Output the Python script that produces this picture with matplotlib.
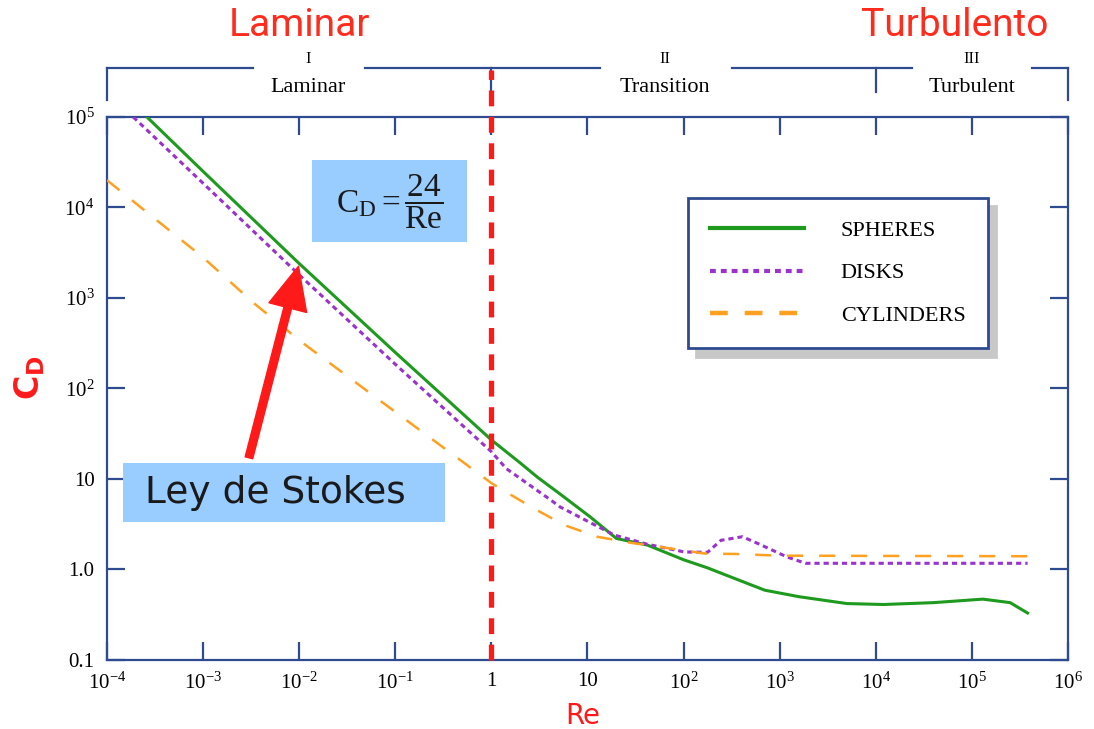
import matplotlib
matplotlib.use("Agg")
import matplotlib.pyplot as plt
from matplotlib.lines import Line2D
from matplotlib.patches import Rectangle, FancyArrowPatch

plt.rcParams['font.family'] = 'Liberation Serif'
plt.rcParams['mathtext.fontset'] = 'custom'
plt.rcParams['mathtext.rm'] = 'Liberation Serif'
plt.rcParams['mathtext.it'] = 'Liberation Serif:italic'
plt.rcParams['mathtext.sf'] = 'DejaVu Sans:bold'

# --- datos ---
re_esferas = [2.6e-4, 1e-3, 1e-2, 1e-1, 1, 2, 3, 5.2, 10.7, 20, 42, 100, 178, 325,
              700, 1590, 5000, 1.2e4, 4e4, 1.3e5, 2.5e5, 3.8e5]
cd_esferas = [1e5, 25000, 2400, 250, 27, 15, 10.5, 6.8, 3.8, 2.2, 1.86, 1.28, 1.04, 0.81,
              0.59, 0.50, 0.42, 0.41, 0.43, 0.47, 0.43, 0.33]

re_discos = [1.87e-4, 1e-3, 1e-2, 1e-1, 1, 1.43, 4.1, 5.2, 19, 42, 102, 178, 245, 410,
             630, 1200, 1860, 3.8e5]
cd_discos = [1e5, 18500, 1800, 185, 20, 13, 5.9, 4.9, 2.4, 1.9, 1.56, 1.55, 2.1, 2.3,
             1.88, 1.37, 1.17, 1.17]

re_cilindros = [1e-4, 1e-3, 3.4e-3, 1.06e-2, 1e-1, 1, 1.3, 2.6, 5.7, 12.6, 29, 42, 166,
                370, 980, 3.8e5]
cd_cilindros = [20000, 2800, 870, 325, 55, 9, 7.6, 4.9, 3.1, 2.3, 1.96, 1.86, 1.5,
                1.48, 1.42, 1.4]

x_ticks = [1e-4, 1e-3, 1e-2, 1e-1, 1, 10, 1e2, 1e3, 1e4, 1e5, 1e6]
x_labels = ['$10^{-4}$', '$10^{-3}$', '$10^{-2}$', '$10^{-1}$', '1', '10',
            '$10^{2}$', '$10^{3}$', '$10^{4}$', '$10^{5}$', '$10^{6}$']
y_ticks = [0.1, 1, 10, 1e2, 1e3, 1e4, 1e5]
y_labels = ['0.1', '1.0', '10', '$10^{2}$', '$10^{3}$', '$10^{4}$', '$10^{5}$']

azul = '#2f4b8f'
rojo = '#ff1a1a'
verde = '#1e9a1e'
morado = '#9933cc'
naranja = '#ffa020'

fig = plt.figure(figsize=(10.94, 7.29), dpi=100)
ax = fig.add_axes([0.0978, 0.0947, 0.8784, 0.7449])

ax.plot(re_esferas, cd_esferas, color=verde, lw=2.2, zorder=4)
ax.plot(re_discos, cd_discos, color=morado, lw=2.2, ls=(0, (1.7, 1.3)), zorder=4)
ax.plot(re_cilindros, cd_cilindros, color=naranja, lw=1.8, ls=(0, (6.4, 6.4)), zorder=4)

ax.set_xscale('log')
ax.set_yscale('log')
ax.set_xlim(1e-4, 1e6)
ax.set_ylim(0.1, 1e5)
ax.set_xticks(x_ticks)
ax.set_xticklabels(x_labels)
ax.set_yticks(y_ticks)
ax.set_yticklabels(y_labels)
ax.minorticks_off()
ax.tick_params(direction='in', length=13, width=1.6, color=azul, labelsize=15,
               top=True, right=True, pad=9)
for lado in ax.spines.values():
    lado.set_color(azul)
    lado.set_linewidth(1.6)

# linea roja en Re = 1
ax.axvline(1, ymin=0, ymax=1.087, color=rojo, lw=3.8, ls=(0, (3, 2)),
           clip_on=False, zorder=6)

# llave superior con regiones
tr = ax.transAxes
y_llave = 1.090
segmentos = [(0.0, 0.152), (0.268, 0.513), (0.650, 0.838), (0.9625, 1.0)]
for a, b in segmentos:
    ax.plot([a, b], [y_llave, y_llave], color=azul, lw=1.6, transform=tr, clip_on=False)
for xm, yb in [(0.0, 1.031), (0.4, 1.046), (0.8, 1.046), (1.0, 1.031)]:
    ax.plot([xm, xm], [y_llave, yb], color=azul, lw=1.6, transform=tr, clip_on=False)
regiones = [('I', 'Laminar', 0.209), ('II', 'Transition', 0.581), ('III', 'Turbulent', 0.900)]
for num, nombre, xr in regiones:
    ax.text(xr, 1.107, num, transform=tr, ha='center', va='center', fontsize=12)
    ax.text(xr, 1.055, nombre, transform=tr, ha='center', va='center', fontsize=16)

# titulos rojos
fig.text(300 / 1094, 1 - 26 / 729, 'Laminar', color='#ff2b1c', fontsize=28,
         family='Roboto', ha='center', va='center')
fig.text(955 / 1094, 1 - 26 / 729, 'Turbulento', color='#ff2b1c', fontsize=28,
         family='Roboto', ha='center', va='center')

# ejes
fig.text(583 / 1094, 1 - 716 / 729, 'Re', color=rojo, fontsize=20,
         family='DejaVu Sans', ha='center', va='center')
fig.text(30 / 1094, 1 - 378 / 729, r'$\mathsf{C_D}$', color=rojo, fontsize=24,
         rotation=90, ha='center', va='center')

# cajas azules
ax.add_patch(Rectangle((0.2133, 0.770), 0.1613, 0.151, transform=tr,
                       facecolor='#99ccff', edgecolor='none', zorder=5))
ax.text(0.294, 0.843, r'$\mathrm{C_D} = \dfrac{24}{\mathrm{Re}}$', transform=tr,
        ha='center', va='center', fontsize=24, color='#1a1a1a', zorder=6)
ax.add_patch(Rectangle((0.0166, 0.254), 0.3351, 0.109, transform=tr,
                       facecolor='#99ccff', edgecolor='none', zorder=5))
ax.text(0.175, 0.307, 'Ley de Stokes', transform=tr, ha='center', va='center',
        fontsize=27, family='DejaVu Sans', color='#1a1a1a', zorder=6)

# flecha
flecha = FancyArrowPatch((2.95e-3, 16), (1e-2, 2400),
                         arrowstyle='simple,tail_width=0.2,head_width=1.0,head_length=1.1',
                         mutation_scale=28, color=rojo, zorder=7)
ax.add_patch(flecha)

# leyenda
manijas = [Line2D([], [], color=verde, lw=3.0),
           Line2D([], [], color=morado, lw=3.0, ls=(0, (1.4, 1.2))),
           Line2D([], [], color=naranja, lw=3.2, ls=(0, (4, 3.8)))]
ley = ax.legend(manijas, ['SPHERES', 'DISKS', 'CYLINDERS'], loc='upper left',
                bbox_to_anchor=(0.6046, 0.851), borderaxespad=0, fontsize=16,
                handlelength=4.2, handletextpad=1.67, borderpad=1.0, labelspacing=1.0,
                fancybox=False, framealpha=1,
                shadow={'ox': 6, 'oy': -6, 'color': '#c8c8c8', 'alpha': 1})
ley.get_frame().set_edgecolor(azul)
ley.get_frame().set_linewidth(2.0)
ley.set_zorder(8)

fig.savefig('out.png', dpi=100)
